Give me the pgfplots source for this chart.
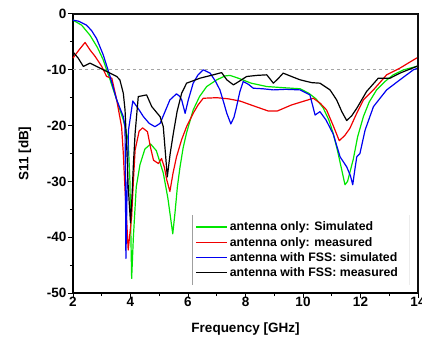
\documentclass[border=0pt]{standalone}
\usepackage{fontspec}
\setmainfont{Liberation Sans}
\usepackage{pgfplots}
\pgfplotsset{compat=1.18}
\definecolor{cgreen}{RGB}{0,230,0}
\definecolor{cred}{RGB}{240,0,0}
\definecolor{cblue}{RGB}{0,0,240}
\definecolor{frame}{RGB}{15,15,15}
\begin{document}
\begin{tikzpicture}
\begin{axis}[
  name=main,
  scale only axis, width=345pt, height=279pt,
  xmin=2, xmax=14, ymin=-50, ymax=0,
  clip=false,
  xtick={2,4,...,14}, ytick={-50,-40,...,0},
  minor x tick num=1, minor y tick num=1,
  tick align=outside, xtick pos=bottom, ytick pos=left,
  major tick length=5pt, minor tick length=3pt,
  axis line style={line width=1.3pt, black},
  every tick/.style={line width=1pt, black},
  tick label style={font=\bfseries\fontsize{13.5}{15}\selectfont},
  xticklabel style={yshift=4pt},
  yticklabel style={xshift=2pt},
  /pgf/number format/assume math mode=true,
  xlabel={Frequency [GHz]},
  ylabel={S11 [dB]},
  label style={font=\bfseries\fontsize{13.5}{15}\selectfont},
  xlabel style={yshift=-9pt},
  ylabel style={yshift=9pt},
  legend style={at={(rel axis cs:0.345,0.28)}, anchor=north west, draw=none, fill=none,
    font=\bfseries\fontsize{12.3}{14}\selectfont, row sep=0.6pt, inner xsep=3pt, inner ysep=5pt},
  legend cell align=left,
  legend image code/.code={\draw[#1, line width=1.6pt] (0pt,0pt) -- (31pt,0pt);},
  every axis plot/.append style={line width=1.2pt, line join=round},
]
\addplot[gray!70, dashed, line width=1pt, forget plot] coordinates {(2,-10) (14,-10)};
\addplot[cgreen] coordinates {
(2,-1.1) (2.3,-2.0) (2.59,-3.8) (2.85,-6.0) (3.05,-8.2) (3.29,-11.8) (3.52,-15.4) (3.75,-19) (3.92,-22.6) (3.98,-30) (4.04,-47.4) (4.1,-40) (4.2,-31) (4.33,-27) (4.5,-24.2) (4.7,-23.3) (4.9,-24.5) (5.14,-28.5) (5.3,-33) (5.47,-39.4) (5.55,-35.5) (5.63,-31) (5.72,-27.5) (5.83,-24) (5.95,-21.3) (6.18,-17.2) (6.4,-14.8) (6.65,-13) (7.0,-11.8) (7.29,-11.1) (7.46,-11.0) (7.8,-11.6) (8.2,-12.4) (8.74,-13.0) (9.3,-13.2) (9.9,-13.4) (10.2,-14.2) (10.45,-15.2) (10.7,-16.8) (10.9,-19) (11.05,-21.4) (11.2,-24.5) (11.35,-28) (11.46,-30.6) (11.55,-30) (11.65,-28) (11.75,-26) (11.9,-22) (12.1,-18.4) (12.3,-15.8) (12.56,-13.6) (12.85,-12.1) (13.14,-10.9) (13.5,-10) (13.95,-9.4) (14,-9.3)};
\addlegendentry{antenna only: Simulated}
\addplot[cred] coordinates {
(2,-7.9) (2.2,-6.5) (2.42,-5.1) (2.6,-6.5) (2.77,-7.6) (3.0,-9.4) (3.17,-11.2) (3.35,-11.5) (3.52,-15.4) (3.69,-20.2) (3.75,-25) (3.81,-31.5) (3.92,-42.3) (4.04,-36.3) (4.1,-30) (4.16,-24.4) (4.3,-21) (4.42,-20.4) (4.59,-21.1) (4.7,-24) (4.8,-26.2) (4.97,-26.8) (5.08,-25.9) (5.18,-27.5) (5.26,-29.7) (5.37,-31.8) (5.48,-28.5) (5.6,-25.6) (5.78,-22.5) (5.95,-20.2) (6.18,-17.8) (6.35,-16.3) (6.53,-15.1) (7.0,-15.0) (7.4,-15.2) (7.81,-15.6) (8.3,-16.5) (8.8,-17.4) (9.1,-17.4) (9.6,-16.3) (10.36,-15.1) (10.6,-16) (10.82,-17.2) (11.05,-20) (11.26,-22.7) (11.45,-21.8) (11.63,-20.5) (11.85,-18) (12.1,-15.4) (12.45,-13.6) (12.91,-10.9) (13.37,-9.7) (13.95,-7.9) (14,-7.8)};
\addlegendentry{antenna only: measured}
\addplot[cblue] coordinates {
(2,-1.1) (2.2,-1.3) (2.47,-2.0) (2.65,-3.0) (2.82,-4.4) (3.05,-7.3) (3.29,-11.2) (3.52,-15.4) (3.75,-18.4) (3.81,-20.2) (3.84,-43.8) (3.88,-32) (3.93,-20.8) (4.08,-15.6) (4.25,-16.8) (4.45,-18.4) (4.65,-19.6) (4.85,-20.2) (5.03,-19.6) (5.2,-17.5) (5.37,-15.4) (5.6,-14.3) (5.72,-14.8) (5.78,-15.4) (5.9,-17.8) (6.01,-15.4) (6.18,-12.4) (6.35,-10.9) (6.53,-10.0) (6.77,-10.6) (6.95,-12) (7.11,-13.6) (7.25,-16) (7.35,-17.8) (7.49,-19.7) (7.6,-18.5) (7.69,-16.6) (7.8,-14) (7.92,-12.1) (8.1,-12.6) (8.27,-13.3) (8.6,-13.4) (8.97,-13.6) (9.4,-13.5) (9.9,-13.6) (10.24,-14.5) (10.42,-18.1) (10.59,-17.5) (10.8,-19) (11.05,-21.5) (11.29,-25.6) (11.52,-27.4) (11.65,-29) (11.73,-30.6) (11.8,-28) (11.87,-25.6) (11.98,-25) (12.16,-20.8) (12.45,-16.6) (12.91,-13.6) (13.37,-11.8) (13.84,-10.0) (14,-9.7)};
\addlegendentry{antenna with FSS: simulated}
\addplot[black] coordinates {
(2,-6.8) (2.18,-7.9) (2.36,-9.4) (2.59,-8.8) (2.82,-9.4) (3.17,-10.3) (3.52,-11.2) (3.63,-11.8) (3.75,-14.2) (3.81,-17.2) (3.87,-24) (3.92,-30.9) (4.0,-37.4) (4.05,-33) (4.1,-27) (4.16,-21.4) (4.27,-14.8) (4.56,-14.5) (4.74,-16.6) (5.03,-18.4) (5.14,-20.2) (5.2,-24) (5.28,-29.2) (5.38,-25) (5.49,-21.4) (5.62,-17.5) (5.78,-14.2) (5.95,-12.4) (6.42,-11.5) (6.88,-10.9) (7.17,-10.5) (7.35,-11.8) (7.58,-12.7) (7.8,-12) (8.04,-11.2) (8.4,-11) (8.74,-10.9) (8.97,-12.4) (9.15,-11.5) (9.31,-10.6) (9.6,-11.2) (9.9,-11.8) (10.3,-12.3) (10.59,-12.4) (10.94,-13.6) (11.17,-15.4) (11.35,-17.5) (11.52,-19.1) (11.7,-18.2) (11.87,-16.9) (12.21,-13.9) (12.62,-11.5) (13.03,-11.5) (13.37,-10.6) (13.95,-9.4) (14,-9.3)};
\addlegendentry{antenna with FSS: measured}
\draw[frame, line width=2.4pt] (axis cs:2,0) -- (axis cs:14,0);
\draw[frame, line width=2.4pt] (axis cs:14,0) -- (axis cs:14,-50);
\end{axis}
\draw[gray!75, line width=1pt] ([shift={(119pt,78pt)}]main.south west) -- ([shift={(119pt,8pt)}]main.south west);
\draw[gray!15, line width=0.8pt] ([shift={(336pt,78pt)}]main.south west) -- ([shift={(336pt,8pt)}]main.south west);
\pgfresetboundingbox
\useasboundingbox (main.south west) ++(-73pt,-47pt) rectangle ++(422pt,340pt);
\end{tikzpicture}
\end{document}
